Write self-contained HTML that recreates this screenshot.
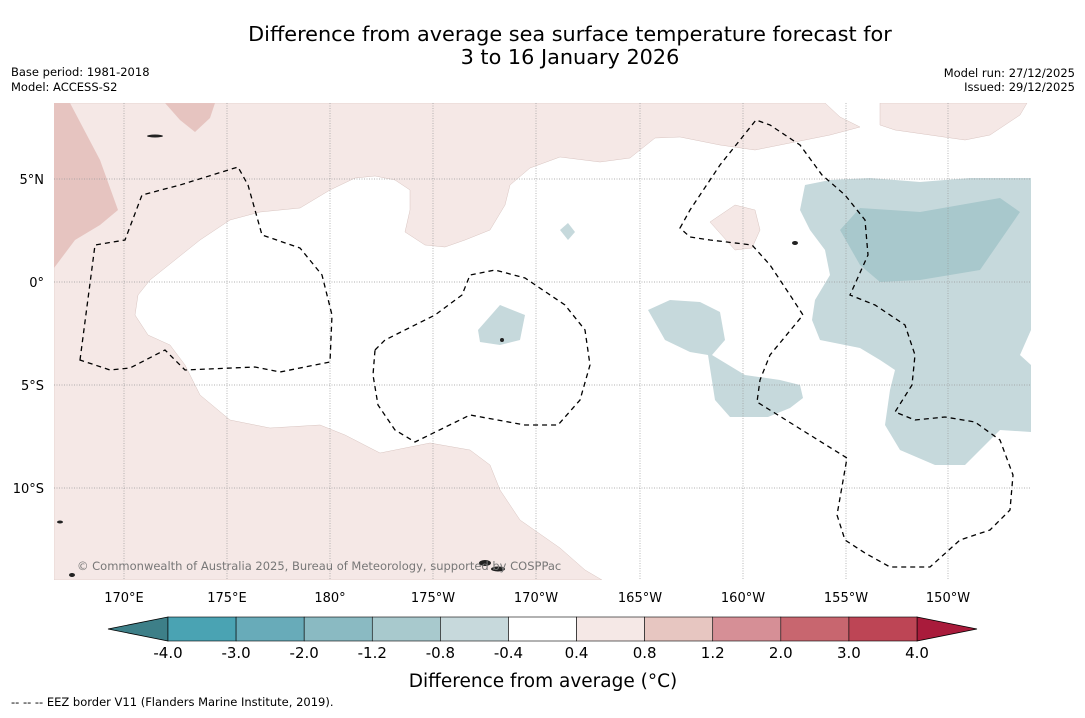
<!DOCTYPE html>
<html><head><meta charset="utf-8"><style>
body{margin:0;background:#fff;width:1085px;height:713px;overflow:hidden;font-family:"Liberation Sans","DejaVu Sans",sans-serif}
svg text{font-family:"DejaVu Sans","Liberation Sans",sans-serif}
</style></head><body>
<svg width="1085" height="713">
<text x="570" y="41" font-size="20.8" text-anchor="middle">Difference from average sea surface temperature forecast for</text>
<text x="570" y="64" font-size="20.8" text-anchor="middle">3 to 16 January 2026</text>
<text x="11" y="76" font-size="11.5">Base period: 1981-2018</text>
<text x="11" y="91" font-size="11.5">Model: ACCESS-S2</text>
<text x="1075" y="77" font-size="11.5" text-anchor="end">Model run: 27/12/2025</text>
<text x="1075" y="91" font-size="11.5" text-anchor="end">Issued: 29/12/2025</text>
<g id="map">
<clipPath id="mc"><rect x="54" y="103" width="977" height="477"/></clipPath>
<g clip-path="url(#mc)">
<rect x="54" y="103" width="977" height="477" fill="#fff"/>
<polygon fill="#f5e8e6" stroke="#d8c4c0" stroke-width="0.5" points="54,103 825,103 840,117 860,127 830,135 755,150 720,145 680,137 655,138 630,158 600,162 560,157 530,168 510,185 505,205 490,230 465,240 445,247 425,245 405,232 410,210 410,190 395,180 375,176 355,178 330,190 300,208 260,212 230,220 200,240 175,260 150,280 138,295 135,315 148,335 170,345 185,365 200,395 230,420 270,428 320,425 345,435 380,453 430,443 470,450 490,465 500,490 520,520 560,548 585,570 602,580 54,580"/>
<polygon fill="#e6c4c0" points="54,103 70,103 100,160 118,210 100,225 75,240 54,268"/>
<polygon fill="#e6c4c0" points="165,103 215,103 210,118 195,132 180,120"/>
<polygon fill="#f5e8e6" stroke="#d8c4c0" stroke-width="0.5" points="880,103 1027,103 1020,115 990,135 965,140 930,135 895,130 880,125"/>
<polygon fill="#f5e8e6" stroke="#d8c4c0" stroke-width="0.5" points="710,222 735,205 755,210 760,230 752,248 735,250"/>
<polygon fill="#c6d9dc" points="805,185 830,180 870,178 920,182 970,178 1031,178 1031,330 1020,355 1031,365 1031,432 1000,430 980,450 965,465 935,465 900,450 885,425 890,390 895,370 880,360 860,348 820,340 812,320 815,300 830,275 825,250 810,230 800,210"/>
<polygon fill="#a8c8cc" points="840,230 860,208 920,212 1000,198 1020,212 980,270 920,280 880,282 860,265"/>
<polygon fill="#c6d9dc" points="648,310 670,300 700,302 720,312 725,340 712,355 745,375 780,380 800,385 803,398 790,408 768,417 730,417 715,400 708,355 690,352 665,340"/>
<polygon fill="#c6d9dc" points="478,330 500,305 525,315 520,340 500,345 480,342"/>
<polygon fill="#c6d9dc" points="560,230 568,223 575,232 568,240"/>
<g stroke="#999" stroke-width="0.7" stroke-dasharray="1,1.5">
<line x1="124" y1="103" x2="124" y2="580"/><line x1="227" y1="103" x2="227" y2="580"/><line x1="330" y1="103" x2="330" y2="580"/><line x1="433" y1="103" x2="433" y2="580"/><line x1="536" y1="103" x2="536" y2="580"/><line x1="640" y1="103" x2="640" y2="580"/><line x1="743" y1="103" x2="743" y2="580"/><line x1="846" y1="103" x2="846" y2="580"/><line x1="948" y1="103" x2="948" y2="580"/>
<line x1="54" y1="179" x2="1031" y2="179"/><line x1="54" y1="282" x2="1031" y2="282"/><line x1="54" y1="385" x2="1031" y2="385"/><line x1="54" y1="488" x2="1031" y2="488"/>
</g>
<g fill="none" stroke="#000" stroke-width="1.3" stroke-dasharray="5,4">
<polygon points="80,360 95,245 125,240 142,195 180,185 238,167 248,185 262,235 300,248 322,275 332,315 330,362 280,372 255,367 185,370 165,350 130,368 110,370"/>
<polygon points="375,350 385,340 435,315 462,295 470,275 495,270 525,278 565,305 585,330 590,365 580,400 558,425 525,425 470,415 415,442 395,430 378,405 373,375"/>
<polygon points="680,228 690,210 720,165 756,120 770,125 800,145 822,175 845,195 865,220 868,255 850,295 875,305 905,325 915,355 912,385 895,412 915,420 945,417 975,422 1000,440 1013,475 1010,510 990,530 960,540 930,567 890,567 865,553 845,540 837,515 847,458 757,402 760,380 770,355 803,315 790,295 770,265 752,245 710,240 690,237"/>
</g>
<g fill="#222">
<ellipse cx="485" cy="563" rx="6" ry="3"/><ellipse cx="498" cy="569" rx="7" ry="2.5"/><ellipse cx="72" cy="575" rx="3" ry="2"/><ellipse cx="60" cy="522" rx="3" ry="1.5"/><ellipse cx="155" cy="136" rx="8" ry="1.5"/><ellipse cx="795" cy="243" rx="3" ry="2"/><ellipse cx="502" cy="340" rx="2" ry="2"/>
</g>
<text x="77" y="570" font-size="11.5" fill="#777">© Commonwealth of Australia 2025, Bureau of Meteorology, supported by COSPPac</text>
</g>
</g>
<g font-size="13" text-anchor="middle">
<text x="124" y="602">170°E</text><text x="227" y="602">175°E</text><text x="330" y="602">180°</text><text x="433" y="602">175°W</text><text x="536" y="602">170°W</text><text x="640" y="602">165°W</text><text x="743" y="602">160°W</text><text x="846" y="602">155°W</text><text x="948" y="602">150°W</text>
</g>
<g font-size="13" text-anchor="end">
<text x="44" y="184">5°N</text><text x="44" y="287">0°</text><text x="44" y="390">5°S</text><text x="44" y="493">10°S</text>
</g>
<g id="cbar"></g>
<text x="543" y="687" font-size="18.5" text-anchor="middle">Difference from average (°C)</text>
<text x="11" y="706" font-size="11.5">--  --  -- EEZ border V11 (Flanders Marine Institute, 2019).</text>
</svg>
<script>
const cbLabels=["-4.0","-3.0","-2.0","-1.2","-0.8","-0.4","0.4","0.8","1.2","2.0","3.0","4.0"];
const cbColors=["#4aa3b3","#68abb9","#8abac2","#a8c9cd","#c7d9dc","#ffffff","#f5e8e6","#e7c6c1","#d68f96","#c8666f","#bd4555"];
const ns="http://www.w3.org/2000/svg",g=document.getElementById("cbar");
const x0=168,x1=917,y0=617,h=24,w=(x1-x0)/cbColors.length;
function mk(t,a){const e=document.createElementNS(ns,t);for(const k in a)e.setAttribute(k,a[k]);g.appendChild(e);return e;}
let l=mk("polygon",{points:`${x0},${y0} 108,${y0+h/2} ${x0},${y0+h}`,fill:"#3d7f88",stroke:"#000","stroke-width":0.8});


let r=mk("polygon",{points:`${x1},${y0} 977,${y0+h/2} ${x1},${y0+h}`,fill:"#a91b3b",stroke:"#000","stroke-width":0.8});


cbColors.forEach((c,i)=>{const e=mk("rect",{x:x0+i*w,y:y0,width:w,height:h,fill:c,stroke:"#000","stroke-width":0.6});

});
cbLabels.forEach((t,i)=>{const e=mk("text",{x:x0+i*w,y:658,"font-size":15,"text-anchor":"middle"});e.textContent=t;

});
</script>
</body></html>
